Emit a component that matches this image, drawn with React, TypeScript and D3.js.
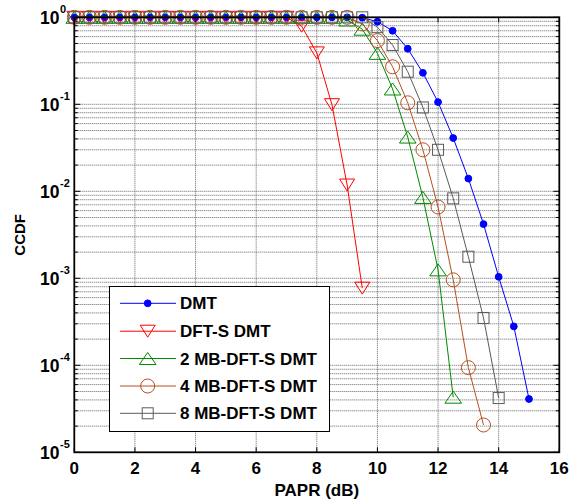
import React from "react";
import * as d3 from "d3";

const xs = [0,0.5,1,1.5,2,2.5,3,3.5,4,4.5,5,5.5,6,6.5,7,7.5,8,8.5,9,9.5,10,10.5,11,11.5,12,12.5,13,13.5,14,14.5,15];
const flat = (n: number) => Array.from({ length: n }, () => 1);

const dmt = [...flat(19), 0.99, 0.89, 0.70, 0.435, 0.23, 0.106, 0.041, 0.014, 0.0042, 0.00104, 2.8e-4, 4.1e-5];
const dftS = [...flat(15), 0.79, 0.39, 0.099, 0.0118, 7.7e-4];
const mb2 = [...flat(18), 0.93, 0.73, 0.385, 0.15, 0.042, 0.0085, 0.00125, 4.3e-5];
const mb4 = [...flat(19), 0.84, 0.54, 0.27, 0.104, 0.030, 0.0066, 9.6e-4, 9.4e-5, 2.06e-5];
const mb8 = [...flat(20), 0.77, 0.48, 0.237, 0.092, 0.030, 0.0083, 0.00177, 3.5e-4, 4.2e-5];

const seriesNames = ["DMT", "DFT-S DMT", "2 MB-DFT-S DMT", "4 MB-DFT-S DMT", "8 MB-DFT-S DMT"];
const seriesValues = [dmt, dftS, mb2, mb4, mb8];
const colors = ["#0000ff", "#ff0000", "#008a00", "#b5501f", "#5a5a5a"];
const markers = ["dot", "tridown", "triup", "circle", "square"];

const xTicks = [0, 2, 4, 6, 8, 10, 12, 14, 16];
const yExps = [0, -1, -2, -3, -4, -5];

const W = 580, H = 501;
const L = 74.3, R = 559.3, T = 17.3, B = 452.3;

function Marker({ type, x, y, color }: { type: string; x: number; y: number; color: string }) {
  if (type === "dot") return <circle cx={x} cy={y} r={3.4} fill={color} stroke={color} strokeWidth={1} />;
  if (type === "circle") return <circle cx={x} cy={y} r={7} fill="none" stroke={color} strokeWidth={1} />;
  if (type === "square") return <rect x={x - 5.5} y={y - 5.5} width={11} height={11} fill="none" stroke={color} strokeWidth={1} />;
  if (type === "triup") {
    const w = 8.3, h = 6;
    return <path d={`M${x},${y - h}L${x + w},${y + h}L${x - w},${y + h}Z`} fill="none" stroke={color} strokeWidth={1} />;
  }
  const w = 7.5, h = 6;
  return <path d={`M${x},${y + h}L${x + w},${y - h}L${x - w},${y - h}Z`} fill="none" stroke={color} strokeWidth={1} />;
}

export default function App() {
  const x = d3.scaleLinear().domain([0, 16]).range([L, R]);
  const y = d3.scaleLog().domain([1e-5, 1]).range([B, T]);
  const line = d3.line<[number, number]>().x(d => x(d[0])).y(d => y(d[1]));

  const minorVals: number[] = [];
  for (let e = -5; e < 0; e++) for (let m = 2; m <= 9; m++) minorVals.push(m * Math.pow(10, e));
  const majorVals = yExps.map(e => Math.pow(10, e));

  const font = "Arial, 'Liberation Sans', Helvetica, sans-serif";
  const legX = 109.5, legY = 286.5, legW = 220, legH = 145;
  const rowY = [303.3, 331.2, 358.5, 386, 413.3];

  return (
    <svg width={W} height={H} style={{ position: "absolute", left: 0, top: 0, background: "#fff" }} fontFamily={font}>
      <rect x={0} y={0} width={W} height={H} fill="#fff" />
      {/* grid */}
      <g stroke="#666" strokeWidth={1} strokeDasharray="1,1" fill="none">
        {xTicks.slice(1, -1).map(t => <line key={"gx" + t} x1={x(t)} x2={x(t)} y1={T} y2={B} />)}
        {[...minorVals, ...majorVals.slice(1, -1)].map((v, i) => <line key={"gy" + i} x1={L} x2={R} y1={y(v)} y2={y(v)} />)}
      </g>
      {/* ticks */}
      <g stroke="#000" strokeWidth={1}>
        {xTicks.map(t => <g key={"tx" + t}>
          <line x1={x(t)} x2={x(t)} y1={B} y2={B - 5} />
          <line x1={x(t)} x2={x(t)} y1={T} y2={T + 5} />
        </g>)}
        {majorVals.map((v, i) => <g key={"ty" + i}>
          <line x1={L} x2={L + 6} y1={y(v)} y2={y(v)} />
          <line x1={R} x2={R - 6} y1={y(v)} y2={y(v)} />
        </g>)}
        {minorVals.map((v, i) => <g key={"tm" + i}>
          <line x1={L} x2={L + 3.5} y1={y(v)} y2={y(v)} />
          <line x1={R} x2={R - 3.5} y1={y(v)} y2={y(v)} />
        </g>)}
      </g>
      {/* series */}
      {seriesValues.map((vals, si) => {
        const pts: [number, number][] = vals.map((v, i) => [xs[i], v]);
        return (
          <g key={"s" + si}>
            <path d={line(pts) || ""} fill="none" stroke={colors[si]} strokeWidth={1} />
            {pts.map((p, i) => <Marker key={i} type={markers[si]} x={x(p[0])} y={y(p[1])} color={colors[si]} />)}
          </g>
        );
      })}
      {/* frame */}
      <rect x={L} y={T} width={R - L} height={B - T} fill="none" stroke="#000" strokeWidth={1.8} />
      {/* x tick labels */}
      {xTicks.map(t => (
        <text key={"lx" + t} x={x(t)} y={474} textAnchor="middle" fontSize={17} fontWeight="bold">{t}</text>
      ))}
      {/* y tick labels */}
      {yExps.map(e => (
        <g key={"ly" + e}>
          <text x={59.5} y={y(Math.pow(10, e)) + 7} textAnchor="end" fontSize={17.5} fontWeight="bold">10</text>
          <text x={60} y={y(Math.pow(10, e)) - 4.5} textAnchor="start" fontSize={11} fontWeight="bold">{e}</text>
        </g>
      ))}
      {/* axis labels */}
      <text x={(L + R) / 2} y={496} textAnchor="middle" fontSize={17} fontWeight="bold">PAPR (dB)</text>
      <text transform={`translate(25,${(T + B) / 2}) rotate(-90)`} textAnchor="middle" fontSize={15} fontWeight="bold">CCDF</text>
      {/* legend */}
      <rect x={legX} y={legY} width={legW} height={legH} fill="#fff" stroke="#000" strokeWidth={1} />
      {seriesNames.map((n, i) => (
        <g key={"lg" + i}>
          <line x1={120} x2={176} y1={rowY[i]} y2={rowY[i]} stroke={colors[i]} strokeWidth={1} />
          <Marker type={markers[i]} x={147.7} y={rowY[i]} color={colors[i]} />
          <text x={180} y={rowY[i] + 6} fontSize={17} fontWeight="bold">{n}</text>
        </g>
      ))}
    </svg>
  );
}
